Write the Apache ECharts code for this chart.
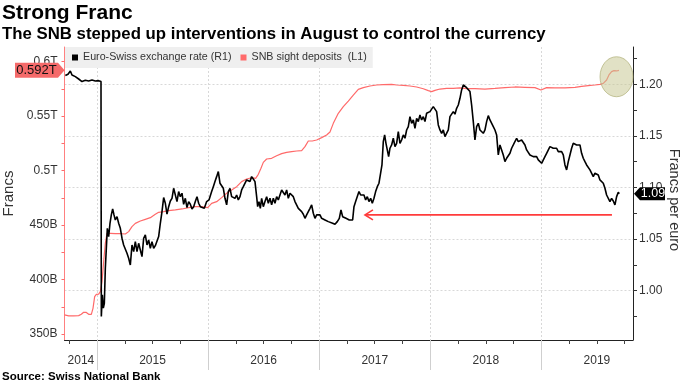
<!DOCTYPE html>
<html><head><meta charset="utf-8">
<script src="https://cdn.jsdelivr.net/npm/echarts@6/dist/echarts.min.js"></script>
<style>html,body{margin:0;padding:0;background:#fff}#c{width:683px;height:384px}</style>
</head><body><div id="c"></div>
<script>
// Euro-Swiss exchange rate (right axis), [decimal year, CHF per EUR]
const euroSwiss = [[2014.715,1.2084],[2014.739,1.2097],[2014.760,1.2129],[2014.775,1.2090],[2014.805,1.2074],[2014.835,1.2051],[2014.865,1.2026],[2014.895,1.2039],[2014.925,1.2032],[2014.955,1.2042],[2014.985,1.2032],[2015.015,1.2035],[2015.036,1.2026],[2015.039,0.9750],[2015.048,0.9959],[2015.057,0.9830],[2015.066,0.9878],[2015.075,1.0217],[2015.084,1.0410],[2015.093,1.0604],[2015.105,1.0524],[2015.117,1.0653],[2015.129,1.0734],[2015.141,1.0792],[2015.153,1.0734],[2015.165,1.0685],[2015.180,1.0717],[2015.195,1.0653],[2015.210,1.0604],[2015.225,1.0508],[2015.240,1.0443],[2015.255,1.0427],[2015.270,1.0362],[2015.285,1.0314],[2015.300,1.0249],[2015.315,1.0443],[2015.330,1.0378],[2015.345,1.0475],[2015.360,1.0378],[2015.375,1.0459],[2015.390,1.0394],[2015.405,1.0330],[2015.420,1.0508],[2015.435,1.0540],[2015.450,1.0443],[2015.465,1.0491],[2015.480,1.0411],[2015.495,1.0475],[2015.510,1.0411],[2015.525,1.0436],[2015.540,1.0417],[2015.555,1.0524],[2015.570,1.0653],[2015.585,1.0766],[2015.600,1.0902],[2015.615,1.0847],[2015.630,1.0741],[2015.645,1.0814],[2015.660,1.0869],[2015.675,1.0895],[2015.690,1.0992],[2015.705,1.0976],[2015.720,1.0863],[2015.735,1.0960],[2015.750,1.0911],[2015.765,1.0944],[2015.780,1.0837],[2015.795,1.0895],[2015.810,1.0805],[2015.825,1.0863],[2015.840,1.0837],[2015.855,1.0792],[2015.870,1.0814],[2015.885,1.0863],[2015.900,1.0911],[2015.915,1.0847],[2015.930,1.0814],
[2015.942,1.0824],[2015.966,1.0798],[2015.987,1.0863],[2016.008,1.0879],[2016.032,1.0960],[2016.047,1.1008],[2016.062,1.1057],[2016.077,1.1105],[2016.092,1.1154],[2016.107,1.1041],[2016.122,1.1057],[2016.137,1.0992],[2016.152,1.0895],[2016.167,1.0831],[2016.182,1.0960],[2016.197,1.0992],[2016.212,1.0911],[2016.227,1.0927],[2016.242,1.0895],[2016.257,1.0927],[2016.272,1.0879],[2016.287,1.0911],[2016.302,1.0976],[2016.317,1.1008],[2016.332,1.0992],[2016.347,1.1073],[2016.362,1.1089],[2016.377,1.1057],[2016.392,1.1105],[2016.407,1.1082],[2016.422,1.1057],[2016.437,1.0911],[2016.446,1.0814],[2016.458,1.0863],[2016.470,1.0798],[2016.482,1.0895],[2016.497,1.0814],[2016.512,1.0863],[2016.527,1.0911],[2016.542,1.0847],[2016.557,1.0895],[2016.572,1.0831],[2016.587,1.0895],[2016.602,1.0847],[2016.617,1.0911],[2016.632,1.0879],[2016.647,1.0927],[2016.662,1.0976],[2016.677,1.0960],[2016.692,1.0927],[2016.707,1.0976],[2016.722,1.0895],[2016.737,1.0944],[2016.752,1.0960],[2016.767,1.0911],[2016.782,1.0863],[2016.797,1.0847],[2016.812,1.0798],[2016.827,1.0814],[2016.842,1.0766],[2016.857,1.0741],[2016.872,1.0701],[2016.887,1.0734],[2016.902,1.0750],[2016.917,1.0798],[2016.932,1.0831],[2016.947,1.0750],[2016.962,1.0701],[2016.977,1.0734],[2016.992,1.0717],[2017.007,1.0734],[2017.022,1.0701],[2017.037,1.0717],[2017.052,1.0685],[2017.067,1.0695],[2017.082,1.0669],
[2017.097,1.0660],[2017.121,1.0653],[2017.142,1.0643],[2017.163,1.0669],[2017.181,1.0701],[2017.196,1.0782],[2017.211,1.0717],[2017.226,1.0734],[2017.241,1.0701],[2017.256,1.0717],[2017.271,1.0685],[2017.286,1.0695],[2017.301,1.0685],[2017.313,1.0814],[2017.328,1.0863],[2017.343,1.0863],[2017.358,1.0960],[2017.373,1.0927],[2017.388,1.0911],[2017.403,1.0927],[2017.418,1.0879],[2017.433,1.0911],[2017.448,1.0863],[2017.463,1.0895],[2017.478,1.0847],[2017.493,1.0895],[2017.508,1.0960],[2017.523,1.1008],[2017.538,1.1041],[2017.553,1.1057],[2017.565,1.1218],[2017.577,1.1444],[2017.589,1.1509],[2017.601,1.1428],[2017.613,1.1444],[2017.625,1.1299],[2017.637,1.1380],[2017.652,1.1412],[2017.667,1.1477],[2017.682,1.1396],[2017.697,1.1428],[2017.712,1.1541],[2017.727,1.1428],[2017.742,1.1460],[2017.757,1.1509],[2017.772,1.1477],[2017.787,1.1557],[2017.802,1.1590],[2017.817,1.1686],[2017.832,1.1622],[2017.847,1.1654],[2017.862,1.1573],[2017.877,1.1670],[2017.892,1.1638],[2017.907,1.1703],[2017.922,1.1654],[2017.937,1.1686],[2017.952,1.1638],[2017.967,1.1719],[2017.982,1.1703],[2017.997,1.1735],[2018.012,1.1751],[2018.027,1.1783],[2018.042,1.1799],[2018.057,1.1735],[2018.072,1.1606],[2018.087,1.1557],[2018.102,1.1525],[2018.117,1.1557],[2018.132,1.1493],[2018.147,1.1509],[2018.162,1.1557],[2018.177,1.1686],[2018.192,1.1703],[2018.207,1.1735],[2018.222,1.1710],[2018.237,1.1767],[2018.252,1.1799],[2018.267,1.1864],[2018.282,1.1945],[2018.297,1.1993],
[2018.312,1.1977],[2018.327,1.1967],[2018.342,1.1955],[2018.357,1.1929],[2018.372,1.1799],[2018.387,1.1638],[2018.402,1.1460],[2018.417,1.1590],[2018.432,1.1622],[2018.447,1.1557],[2018.462,1.1541],[2018.477,1.1525],[2018.492,1.1557],[2018.507,1.1638],[2018.522,1.1696],[2018.537,1.1654],[2018.552,1.1638],[2018.567,1.1590],[2018.582,1.1557],[2018.597,1.1509],[2018.612,1.1315],[2018.627,1.1412],[2018.642,1.1428],[2018.657,1.1315],[2018.672,1.1250],[2018.687,1.1283],[2018.702,1.1267],[2018.717,1.1331],[2018.732,1.1380],[2018.747,1.1412],[2018.762,1.1428],[2018.777,1.1477],[2018.792,1.1444],[2018.807,1.1428],[2018.822,1.1460],[2018.837,1.1444],[2018.852,1.1412],[2018.867,1.1364],[2018.882,1.1347],[2018.897,1.1315],[2018.912,1.1331],[2018.927,1.1299],[2018.942,1.1283],[2018.957,1.1299],[2018.972,1.1267],[2018.987,1.1250],[2019.002,1.1234],[2019.017,1.1250],[2019.032,1.1299],[2019.047,1.1331],[2019.062,1.1315],[2019.077,1.1396],[2019.092,1.1412],[2019.107,1.1380],[2019.122,1.1364],[2019.137,1.1380],[2019.152,1.1347],[2019.167,1.1364],[2019.182,1.1347],[2019.197,1.1315],[2019.212,1.1218],[2019.227,1.1170],[2019.242,1.1250],[2019.257,1.1315],[2019.272,1.1380],[2019.287,1.1428],[2019.302,1.1444],[2019.317,1.1412],[2019.332,1.1396],[2019.347,1.1412],[2019.362,1.1331],[2019.377,1.1283],[2019.392,1.1250],[2019.407,1.1218],[2019.422,1.1234],[2019.437,1.1170],[2019.452,1.1154],[2019.467,1.1105],[2019.482,1.1138],[2019.497,1.1138],[2019.512,1.1121],[2019.527,1.1073],[2019.542,1.1057],[2019.557,1.1041],[2019.572,1.0992],[2019.587,1.0927],[2019.602,1.0911],[2019.617,1.0863],[2019.632,1.0895],[2019.647,1.0869],[2019.662,1.0831],[2019.677,1.0911],[2019.692,1.0953],[2019.701,1.0940]];

// SNB sight deposits (left axis), [decimal year, billions of francs]
const sightDeposits = [[2014.708,367.5],[2014.745,366.6],[2014.790,366.6],[2014.835,366.9],[2014.859,368.1],[2014.880,369.9],[2014.901,369.9],[2014.925,368.1],[2014.949,368.1],[2014.964,373.6],[2014.979,384.3],[2014.994,386.4],[2015.015,386.7],[2015.030,388.9],[2015.045,398.1],[2015.060,416.4],[2015.075,433.3],[2015.090,442.4],[2015.120,442.4],[2015.165,442.1],[2015.210,442.1],[2015.255,441.8],[2015.285,444.0],[2015.315,448.6],[2015.345,451.6],[2015.390,453.8],[2015.435,455.3],[2015.480,456.8],[2015.525,459.9],[2015.555,461.7],[2015.600,462.3],[2015.645,463.3],[2015.705,463.9],[2015.765,464.8],[2015.825,466.0],[2015.885,466.9],[2015.942,466.9],[2015.996,466.0],[2016.032,469.9],[2016.077,471.5],[2016.122,475.2],[2016.167,479.2],[2016.212,482.2],[2016.257,485.3],[2016.302,489.9],[2016.347,492.3],[2016.392,493.5],[2016.428,492.9],[2016.452,496.6],[2016.476,502.1],[2016.497,507.6],[2016.527,510.7],[2016.572,511.3],[2016.617,513.7],[2016.662,515.6],[2016.707,516.8],[2016.752,517.4],[2016.797,518.0],[2016.842,518.3],[2016.872,522.0],[2016.902,527.2],[2016.938,527.2],[2016.977,528.1],[2017.022,530.3],[2017.067,532.7],[2017.097,535.5],[2017.127,543.4],[2017.172,552.6],[2017.217,558.7],[2017.262,563.9],[2017.307,569.4],[2017.352,574.6],[2017.397,576.2],[2017.457,577.7],[2017.517,578.6],[2017.577,578.9],[2017.652,579.2],[2017.697,578.6],[2017.757,578.3],[2017.817,577.7],[2017.877,576.8],[2017.937,575.2],[2017.982,573.4],[2018.012,572.5],[2018.042,573.7],[2018.087,574.9],[2018.147,575.5],[2018.207,575.5],[2018.267,575.9],[2018.327,575.2],[2018.402,575.2],[2018.492,574.9],[2018.582,575.5],[2018.672,576.2],[2018.762,576.8],[2018.852,576.5],[2018.942,576.2],[2018.996,574.0],[2019.047,576.2],[2019.122,575.9],[2019.212,575.9],[2019.302,576.5],[2019.362,577.4],[2019.422,578.0],[2019.482,578.6],[2019.527,579.2],[2019.557,580.1],[2019.587,583.2],[2019.608,587.8],[2019.632,590.9],[2019.653,591.8],[2019.677,591.5],[2019.698,592.1]];

const leftTicks = [350, 400, 450, 500, 550, 600];
const leftTickLabels = ['350B', '400B', '450B', '0.5T', '0.55T', '0.6T'];
const leftMinorTicks = [350, 375, 400, 425, 450, 475, 500, 525, 550, 575, 600];
const rightTicks = [1.00, 1.05, 1.10, 1.15, 1.20];
const rightTickLabels = ['1.00', '1.05', '1.10', '1.15', '1.20'];
const rightMinorTicks = [0.975, 1.00, 1.025, 1.05, 1.075, 1.10, 1.125, 1.15, 1.175, 1.20, 1.225];
const yearBounds = [2015, 2016, 2017, 2018, 2019];
const quarterTicks = [2014.75, 2015, 2015.25, 2015.5, 2015.75, 2016, 2016.25, 2016.5, 2016.75, 2017, 2017.25, 2017.5, 2017.75, 2018, 2018.25, 2018.5, 2018.75, 2019, 2019.25, 2019.5, 2019.75];
const yearLabels = ['2014', '2015', '2016', '2017', '2018', '2019'];
const yearLabelPos = [2014.855, 2015.5, 2016.5, 2017.5, 2018.5, 2019.5];

// annotations
const arrowLevel = 1.0734;       // right-axis level of the red arrow
const arrowStart = 2019.635;
const arrowEnd = 2017.412;
const highlightPoint = [2019.676, 586.2]; // centre of the circled area (left axis units)

const FONT = 'Liberation Sans, Arial, sans-serif';
const X_MIN = 2014.7075, X_MAX = 2019.8245;
const L_MIN = 344.5, L_MAX = 613.5;
const R_MIN = 0.9522, R_MAX = 1.2361;

function pick(vals, labels) {
  return v => { const i = vals.findIndex(x => Math.abs(x - v) < 1e-6); return i >= 0 ? labels[i] : ''; };
}

const chart = echarts.init(document.getElementById('c'), null, {renderer: 'canvas'});
chart.setOption({
  animation: false,
  backgroundColor: '#fff',
  grid: {left: 64.5, right: 50, top: 47, bottom: 44, containLabel: false, outerBoundsMode: 'none'},
  legend: {
    data: ['Euro-Swiss exchange rate (R1)', 'SNB sight deposits  (L1)'],
    left: 65, top: 47, icon: 'rect', itemWidth: 6, itemHeight: 6, itemGap: 9,
    backgroundColor: '#efefef', padding: [5, 6, 5, 7],
    textStyle: {fontFamily: FONT, fontSize: 10.7, color: '#333'}
  },
  xAxis: [{
    type: 'value', min: X_MIN, max: X_MAX, position: 'bottom',
    axisLine: {show: true, lineStyle: {color: '#222', width: 1}},
    axisTick: {show: true, customValues: quarterTicks, length: 4, lineStyle: {color: '#444'}},
    axisLabel: {customValues: yearLabelPos, formatter: pick(yearLabelPos, yearLabels), margin: 15,
      fontFamily: FONT, fontSize: 12, color: '#333'},
    splitLine: {show: false}
  }, {
    type: 'value', min: X_MIN, max: X_MAX, position: 'bottom',
    axisLine: {show: false},
    axisTick: {show: true, customValues: yearBounds, length: 30, lineStyle: {color: '#cfcfcf', width: 1}},
    axisLabel: {show: false},
    splitLine: {show: true, lineStyle: {color: '#d8d8d8', type: [2, 2], width: 1}}
  }],
  yAxis: [{
    type: 'value', min: L_MIN, max: L_MAX, position: 'left',
    name: 'Francs', nameLocation: 'middle', nameRotate: 90, nameGap: 47,
    nameTextStyle: {fontFamily: FONT, fontSize: 15, color: '#333'},
    axisLine: {show: true, lineStyle: {color: '#ff8080', width: 1}},
    axisTick: {show: true, customValues: leftMinorTicks, length: 3, lineStyle: {color: '#ff6b6b'}},
    axisLabel: {customValues: leftTicks, formatter: pick(leftTicks, leftTickLabels), margin: 7,
      fontFamily: FONT, fontSize: 12, color: '#333'},
    splitLine: {show: false}
  }, {
    type: 'value', min: R_MIN, max: R_MAX, position: 'right',
    axisLine: {show: true, lineStyle: {color: '#222', width: 1}},
    axisTick: {show: true, customValues: rightMinorTicks, length: 4, lineStyle: {color: '#333'}},
    axisLabel: {customValues: rightTicks, formatter: pick(rightTicks, rightTickLabels), margin: 6,
      fontFamily: FONT, fontSize: 12, color: '#333'},
    splitLine: {show: false}
  }, {
    type: 'value', min: R_MIN, max: R_MAX, position: 'right',
    axisLine: {show: false},
    axisTick: {show: false, customValues: rightTicks},
    axisLabel: {show: false},
    splitLine: {show: true, lineStyle: {color: '#d8d8d8', type: [2, 2], width: 1}}
  }],
  series: [{
    name: 'SNB sight deposits  (L1)', type: 'line', xAxisIndex: 0, yAxisIndex: 0,
    data: sightDeposits, showSymbol: false, symbol: 'none',
    lineStyle: {color: '#ff6a6a', width: 1.2}, itemStyle: {color: '#ff6a6a'}, z: 3
  }, {
    name: 'Euro-Swiss exchange rate (R1)', type: 'line', xAxisIndex: 0, yAxisIndex: 1,
    data: euroSwiss, showSymbol: false, symbol: 'none',
    lineStyle: {color: '#000', width: 1.6}, itemStyle: {color: '#000'}, z: 4
  }]
});

const lastRed = sightDeposits[sightDeposits.length - 1][1];
const lastEuro = euroSwiss[euroSwiss.length - 1][1];
const yRed = chart.convertToPixel({yAxisIndex: 0}, lastRed);
const yEuro = chart.convertToPixel({yAxisIndex: 1}, lastEuro);
const c = chart.convertToPixel({xAxisIndex: 0, yAxisIndex: 0}, highlightPoint);
const a0 = chart.convertToPixel({xAxisIndex: 0, yAxisIndex: 1}, [arrowStart, arrowLevel]);
const a1 = chart.convertToPixel({xAxisIndex: 0, yAxisIndex: 1}, [arrowEnd, arrowLevel]);
const gl = 64.5, gr = 683 - 50;

chart.setOption({
  graphic: [
    {type: 'text', left: 2, top: 3, z: 100, style: {text: 'Strong Franc', font: 'bold 21px ' + FONT, fill: '#000'}},
    {type: 'text', left: 2, top: 26, z: 100, style: {text: 'The SNB stepped up interventions in August to control the currency', font: 'bold 16.8px ' + FONT, fill: '#000'}},
    {type: 'text', left: 2, top: 371, z: 100, style: {text: 'Source: Swiss National Bank', font: 'bold 11.5px ' + FONT, fill: '#000'}},
    {type: 'text', z: 100, x: 674, y: 200, rotation: -Math.PI / 2,
      style: {text: 'Francs per euro', font: '14.5px ' + FONT, fill: '#333', align: 'center', verticalAlign: 'middle'}},
    {type: 'ellipse', z: 50, shape: {cx: c[0], cy: c[1], rx: 16.5, ry: 20},
      style: {fill: 'rgba(200,200,150,0.55)', stroke: 'rgba(175,175,120,0.7)', lineWidth: 1}},
    {type: 'line', z: 60, shape: {x1: a0[0], y1: a0[1], x2: a1[0], y2: a1[1]}, style: {stroke: '#ff3b3b', lineWidth: 1.6}},
    {type: 'polyline', z: 60, shape: {points: [[a1[0] + 8, a1[1] - 5], [a1[0], a1[1]], [a1[0] + 8, a1[1] + 5]]}, style: {stroke: '#ff3b3b', lineWidth: 1.6, fill: 'none'}},
    {type: 'polygon', z: 100, shape: {points: [[15, yRed - 7.5], [58, yRed - 7.5], [gl, yRed], [58, yRed + 7.5], [15, yRed + 7.5]]},
      style: {fill: '#f56a6a'}},
    {type: 'text', z: 101, x: 36.5, y: yRed, style: {text: (lastRed / 1000).toFixed(3) + 'T', font: '13px ' + FONT, fill: '#111', align: 'center', verticalAlign: 'middle'}},
    {type: 'polygon', z: 100, shape: {points: [[gr + 1, yEuro], [gr + 7, yEuro - 6.5], [gr + 32, yEuro - 6.5], [gr + 32, yEuro + 6.5], [gr + 7, yEuro + 6.5]]},
      style: {fill: '#000'}},
    {type: 'text', z: 101, x: gr + 20, y: yEuro, style: {text: lastEuro.toFixed(2), font: '12.5px ' + FONT, fill: '#fff', align: 'center', verticalAlign: 'middle'}}
  ]
});
</script>
</body></html>
